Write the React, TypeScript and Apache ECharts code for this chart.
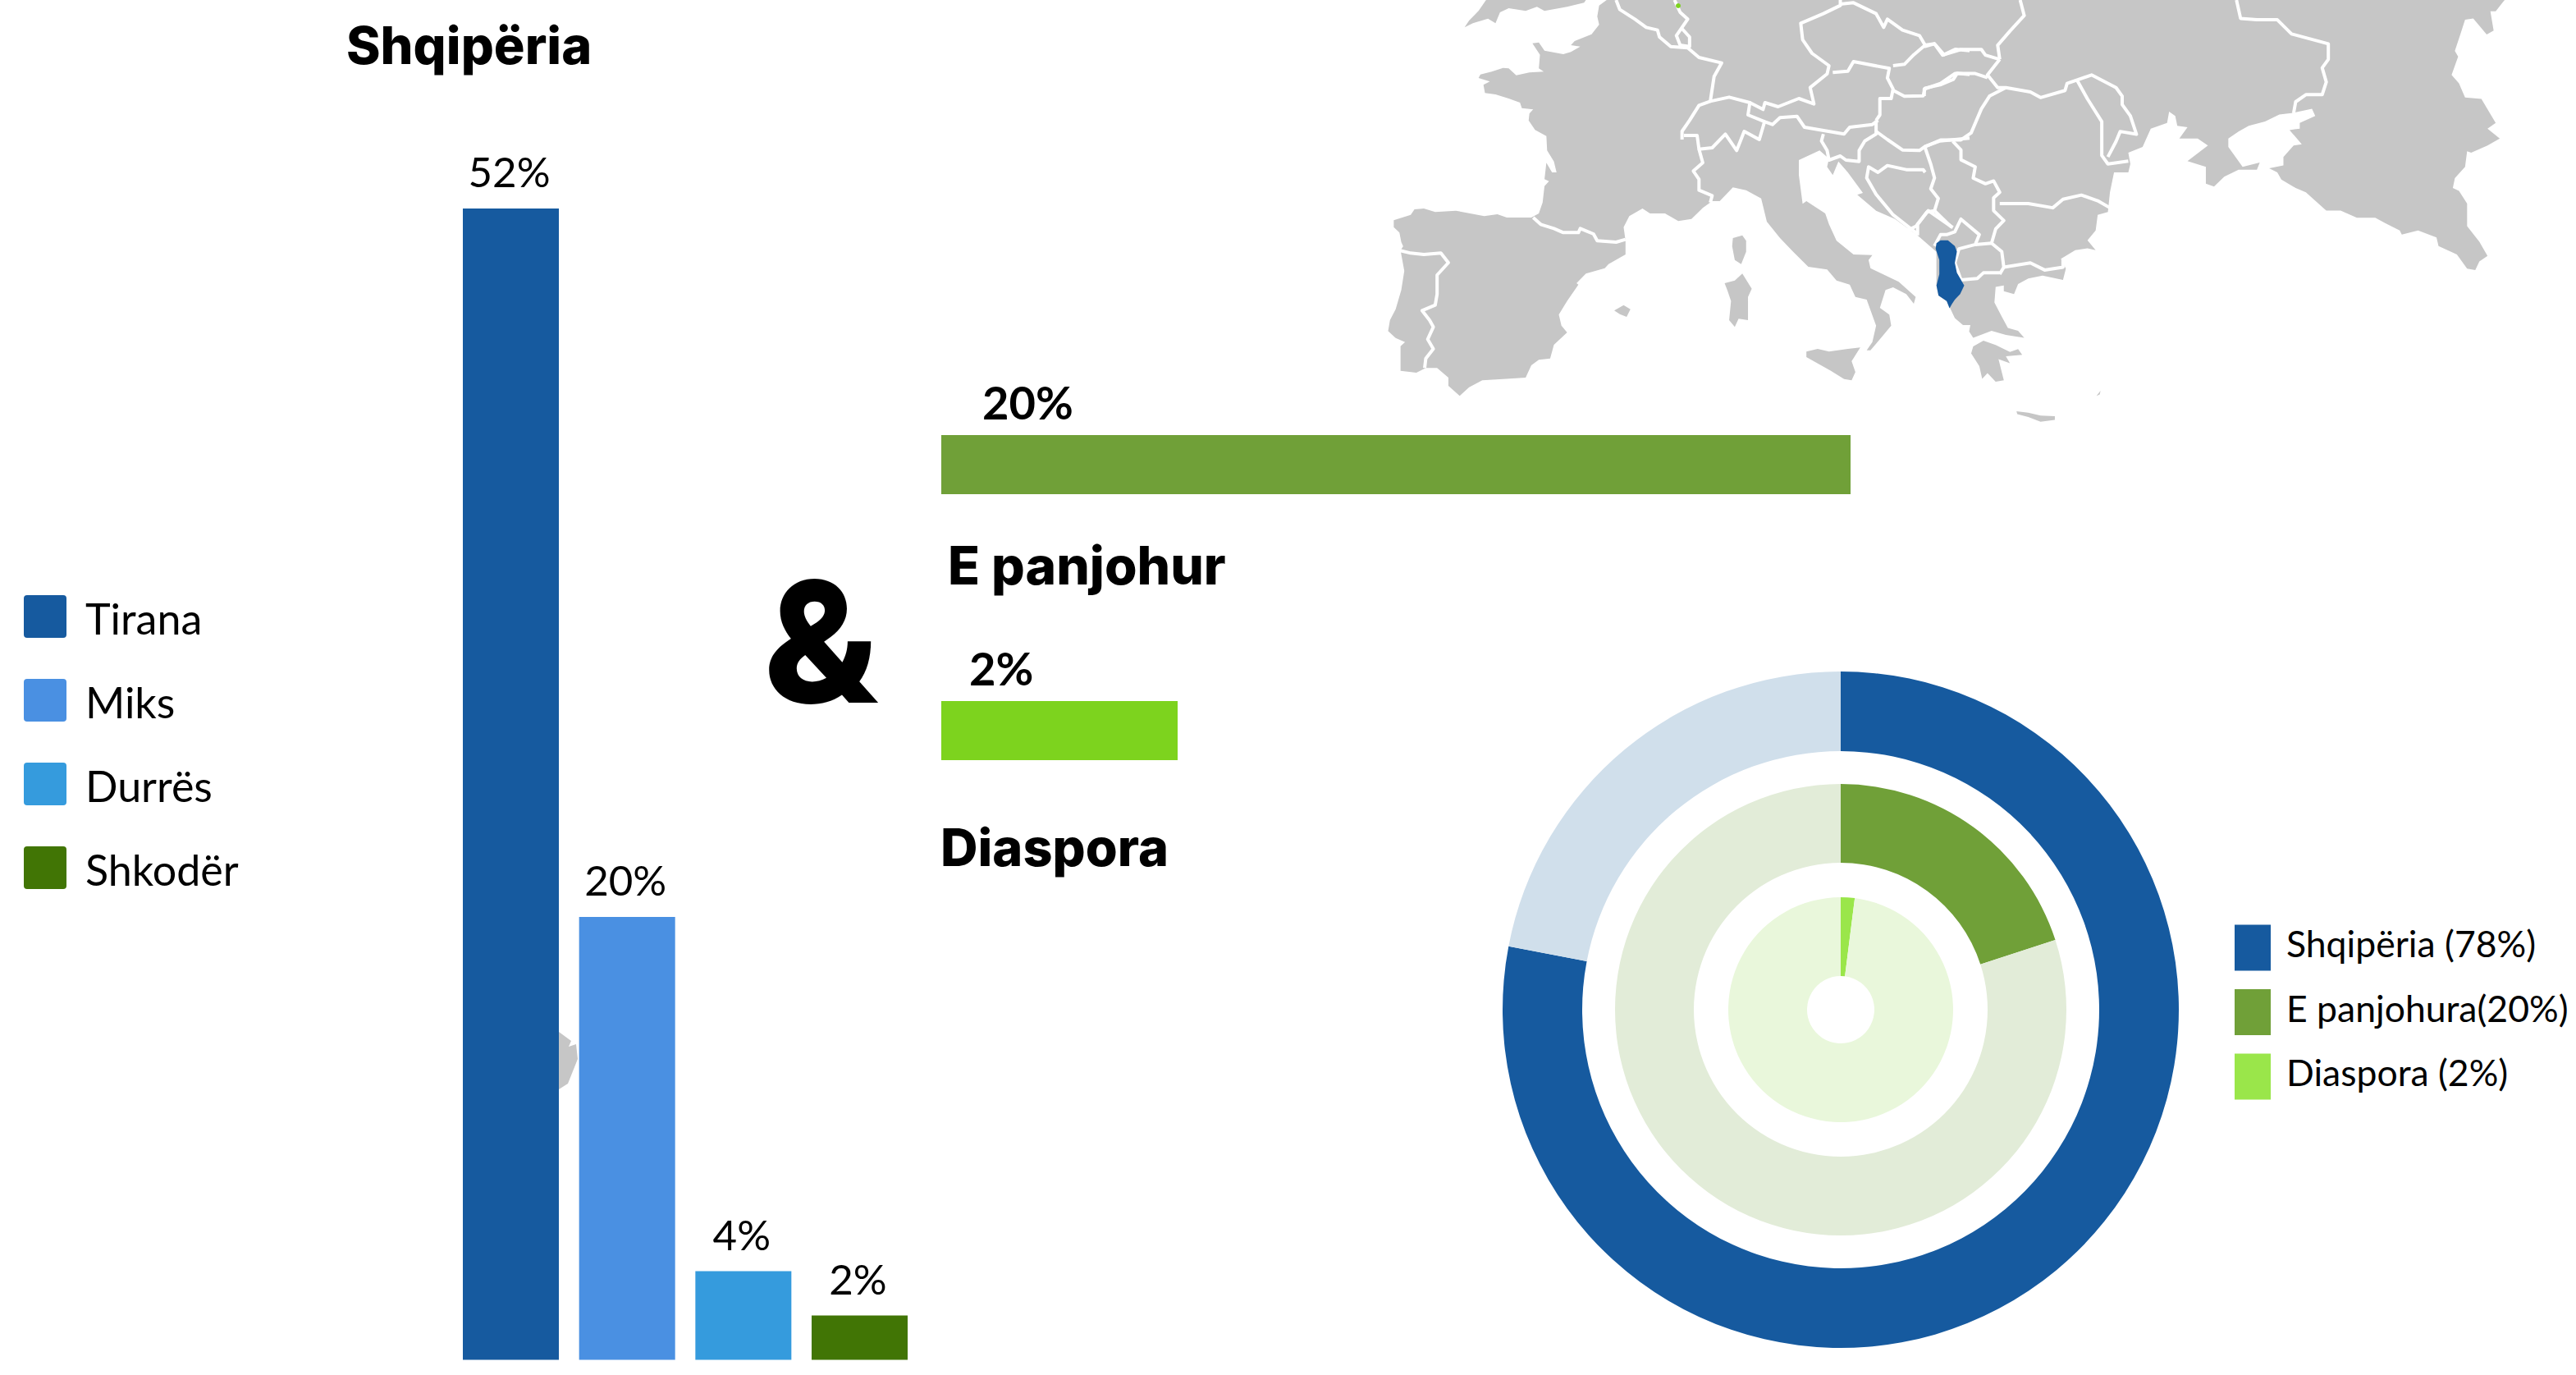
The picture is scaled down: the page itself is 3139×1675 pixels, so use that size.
import React, { useEffect, useRef } from "react";
import * as echarts from "echarts";

// ---- data ----
const regions = ["Tirana", "Miks", "Durrës", "Shkodër"];
const regionValues = [52, 20, 4, 2];
const regionColors = ["#165a9f", "#4a90e2", "#359bdd", "#417505"];

const unknownValue = [20];
const diasporaValue = [2];

const ringNames = ["Shqipëria (78%)", "E panjohura(20%)", "Diaspora (2%)"];
const ringValues = [78, 20, 2];
const ringColors = ["#165a9f", "#70a038", "#9ae64a"];
const ringPale = ["#d0dfeb", "#e2ecd8", "#e9f7db"];

// ---- decorative map outline, traced in the reference's crop coordinates ----
type P = [number, number];
const z4 = (a: number[][]): P[] => a.map(([x, y]) => [1680 + 0.4592 * x, y / 3] as P);
const z5 = (a: number[][]): P[] => a.map(([x, y]) => [2300 + 0.4974 * x, 0.3444 * y] as P);

const westCoast = [[605,0],[585,20],[580,60],[585,90],[565,125],[520,150],[510,165],[535,170],[510,190],[490,198],[440,185],[425,155],[408,158],[428,200],[425,250],[438,262],[400,265],[365,275],[345,250],[330,248],[300,262],[270,272],[265,285],[295,298],[278,310],[282,340],[310,345],[345,360],[375,375],[380,395],[410,400],[400,415],[398,440],[415,475],[445,497],[447,550],[465,590],[472,630],[460,630],[445,595],[440,655],[452,662],[440,680],[435,740],[425,780],[405,795],[380,795],[340,795],[315,783],[280,790],[205,770],[150,775],[120,762],[95,765],[85,785],[40,805],[40,830],[55,850],[60,885],[65,900],[58,915],[68,990],[60,1060],[45,1130],[30,1170],[25,1210],[45,1235],[70,1250],[58,1265],[58,1355],[100,1362],[125,1345],[155,1345],[185,1380],[185,1410],[215,1447],[240,1415],[275,1390],[330,1385],[390,1380],[405,1335],[425,1315],[455,1310],[465,1260],[500,1215],[485,1190],[478,1150],[500,1100],[530,1040],[525,1035],[550,1000],[600,980],[610,965],[655,930],[655,880],[650,830],[665,790],[700,762],[720,780],[760,780],[795,808],[830,800],[860,760],[885,735],[905,735],[940,685],[975,695],[1015,725],[1030,810],[1065,870],[1100,920],[1140,975],[1190,985],[1215,1025],[1250,1040],[1265,1085],[1295,1095],[1320,1190],[1310,1250],[1295,1280],[1305,1280],[1330,1240],[1360,1190],[1355,1150],[1330,1125],[1345,1060],[1365,1050],[1400,1075],[1420,1110],[1425,1085],[1380,1030],[1305,980],[1300,950],[1310,932],[1260,930],[1215,880],[1195,820],[1185,780],[1135,735],[1125,745],[1115,640],[1115,585],[1170,550],[1195,580],[1190,610],[1205,640],[1220,590],[1245,630],[1285,705],[1270,712],[1320,770],[1370,800],[1430,860],[1480,920]];
const eastCoast = [[120,1010],[125,1045],[145,1065],[155,1095],[165,1125],[185,1150],[203,1150],[200,1172],[210,1195],[255,1170],[290,1185],[335,1195],[320,1170],[295,1160],[280,1120],[262,1070],[265,1015],[285,1010],[285,1030],[310,1040],[320,1005],[345,985],[380,975],[430,990],[437,950],[425,915],[460,885],[490,878],[510,885],[490,850],[510,815],[515,760],[540,750],[545,680],[555,610],[590,610],[595,580],[590,540],[625,520],[645,455],[685,435],[690,395],[705,410],[710,445],[735,450],[715,490],[760,490],[785,515],[735,570],[780,590],[780,650],[800,660],[825,625],[860,600],[905,600],[912,575],[870,590],[835,520],[835,490],[860,465],[885,445],[925,430],[960,405],[990,400],[1040,385],[1048,410],[1010,435],[1010,455],[985,460],[1015,510],[995,515],[970,555],[970,585],[935,595],[955,610],[965,635],[1000,665],[1025,680],[1075,745],[1110,745],[1150,770],[1195,770],[1220,790],[1255,815],[1260,830],[1300,815],[1345,840],[1350,870],[1395,900],[1420,950],[1440,955],[1450,925],[1470,905],[1450,855],[1420,800],[1420,720],[1400,675],[1385,665],[1390,630],[1415,590],[1420,535],[1430,540],[1470,515],[1500,490],[1470,455],[1490,435],[1455,350],[1415,345],[1400,295],[1382,265],[1398,200],[1390,180],[1405,115],[1415,70],[1435,65],[1468,122],[1485,108],[1477,40],[1490,40],[1512,0]];
const britain = [[285,0],[265,40],[240,75],[228,100],[250,85],[290,68],[310,85],[322,45],[345,30],[390,40],[420,25],[440,40],[500,25],[545,10],[550,0]];
const islands4 = [
  [[940,870],[965,860],[975,880],[975,920],[962,965],[945,950],[938,900]],
  [[918,1035],[945,1025],[965,1000],[990,1055],[980,1085],[980,1170],[955,1165],[945,1195],[930,1170],[935,1100],[925,1060]],
  [[1135,1285],[1165,1275],[1195,1285],[1245,1275],[1278,1270],[1255,1320],[1265,1360],[1255,1390],[1235,1385],[1200,1355],[1135,1305]],
  [[625,1135],[650,1115],[668,1130],[658,1158],[640,1148]],
];
const islands5 = [
  [[210,1225],[235,1205],[265,1220],[300,1245],[320,1235],[330,1255],[290,1260],[300,1285],[272,1270],[285,1345],[265,1350],[245,1320],[232,1340],[225,1295],[205,1250]],
  [[316,1455],[345,1460],[375,1470],[410,1472],[410,1485],[375,1492],[345,1475],[318,1465]],
  [[512,1400],[522,1382],[520,1395]],
];
const albania = [[120,860],[130,850],[148,850],[165,870],[170,890],[165,930],[170,965],[188,1010],[178,1040],[165,1060],[158,1075],[152,1090],[145,1065],[125,1045],[120,1010],[127,970],[127,920],[118,880]];
const borders4 = [
  [[410,795],[430,820],[465,835],[490,850],[530,850],[535,835],[570,855],[580,880],[630,885],[655,875]],
  [[55,915],[85,925],[120,930],[165,925],[185,960],[155,1005],[155,1075],[150,1115],[115,1135],[135,1170],[145,1195],[130,1240],[145,1275],[125,1310],[122,1345]],
  [[630,0],[640,35],[680,70],[710,100],[740,110],[745,135],[775,170],[820,175],[850,210],[910,230],[890,280],[880,370],[850,385],[825,440],[805,480],[805,510]],
  [[810,495],[845,495],[850,545],[885,540],[920,490],[950,550],[970,480],[1010,510],[1025,440]],
  [[880,370],[930,355],[985,375],[980,420],[1025,445]],
  [[850,545],[860,595],[835,625],[850,655],[850,695],[885,715],[880,740]],
  [[985,375],[1020,400],[1025,375],[1060,390],[1115,360],[1155,380],[1145,320],[1190,270],[1195,240],[1150,195],[1125,145],[1120,85],[1180,50],[1225,20],[1225,0]],
  [[785,0],[800,45],[820,70],[805,100],[790,130],[800,165],[825,170],[825,135],[805,105]],
  [[1225,15],[1260,10],[1320,50],[1340,100],[1350,70],[1390,110],[1435,130],[1450,165],[1475,160],[1500,200],[1530,180],[1568,185]],
  [[1205,265],[1245,260],[1260,225],[1355,250],[1350,285],[1365,325],[1360,360],[1330,360],[1330,420],[1320,440]],
  [[1365,240],[1395,235],[1420,200],[1450,165]],
  [[1365,330],[1395,352],[1445,350],[1450,322],[1490,310],[1525,290],[1535,268],[1568,272]],
  [[1025,445],[1045,455],[1065,430],[1110,425],[1130,465],[1235,490],[1250,465],[1310,455],[1325,440]],
  [[1180,490],[1175,515],[1190,550],[1195,585],[1225,570],[1240,585],[1275,590],[1275,550],[1290,515],[1320,490],[1320,440]],
  [[1320,480],[1350,510],[1390,548],[1435,550],[1450,535],[1490,515],[1568,505]],
  [[1450,540],[1465,600],[1475,650],[1465,690],[1485,725],[1475,770]],
  [[1450,630],[1445,620],[1400,620],[1350,605],[1325,630],[1300,610],[1295,650],[1320,710],[1365,785],[1430,855]],
  [[1430,860],[1430,820],[1455,775],[1475,770],[1520,830]],
];
const borders5 = [
  [[115,870],[130,830],[145,830],[165,820],[180,775],[225,830],[215,865],[175,880],[165,930],[180,990],[220,985],[235,965],[275,965]],
  [[30,830],[70,800],[100,745],[160,805]],
  [[215,865],[255,860],[280,890],[285,945],[275,970]],
  [[285,945],[350,930],[385,955],[430,945],[430,915]],
  [[255,860],[265,810],[285,780],[260,745],[260,700],[275,680],[260,640],[240,650],[210,630],[215,590],[180,565],[180,530],[160,500]],
  [[90,520],[130,495],[180,495],[205,470],[230,385],[250,340],[290,310]],
  [[275,210],[245,265],[270,310],[290,310],[350,325],[375,345],[435,320],[440,295],[500,265],[560,310],[575,340],[575,370],[595,410],[610,475],[570,465],[560,500],[540,555]],
  [[465,285],[490,350],[525,430],[525,550],[540,580],[590,570]],
  [[275,720],[345,720],[405,735],[430,705],[475,690],[515,710],[545,735]],
  [[325,0],[335,55],[300,110],[270,160],[275,210]],
  [[90,165],[115,155],[135,195],[180,175],[230,175],[240,195],[275,210]],
  [[90,340],[90,315],[130,295],[165,260],[215,260],[245,275]],
  [[855,0],[865,65],[905,70],[955,70],[990,120],[1080,155],[1080,210],[1065,240],[1075,290],[1065,335],[1025,335],[1000,360],[995,400]],
];
const fragment = [[681,1257],[696,1268],[693,1275],[702,1272],[704,1290],[698,1305],[692,1320],[681,1327]];

const GREY = "#c6c6c6";
const SWATCH = "path://M4,0H48Q52,0 52,4V48Q52,52 48,52H4Q0,52 0,48V4Q0,0 4,0Z";

function mapGraphics() {
  const land: any = (pts: P[]) => ({ type: "polygon", silent: true, shape: { points: pts }, style: { fill: GREY } });
  const line: any = (pts: P[]) => ({ type: "polyline", silent: true, shape: { points: pts }, style: { stroke: "#fff", lineWidth: 4, fill: "none", lineJoin: "round" } });
  const main = [...z4(westCoast), ...z5(eastCoast)];
  return [
    land(z4(britain)),
    land(main),
    ...islands4.map((p) => land(z4(p))),
    ...islands5.map((p) => land(z5(p))),
    ...borders4.map((p) => line(z4(p))),
    ...borders5.map((p) => line(z5(p))),
    { type: "polygon", silent: true, shape: { points: z5(albania) }, style: { fill: "#165a9f" } },
    { type: "circle", silent: true, shape: { cx: 2045, cy: 7, r: 3 }, style: { fill: "#7dd31e" } },
    land(fragment as P[]),
  ];
}

const BOLD = "Inter";
const LIGHT = "Lato";

function title(text: string, left: number, top: number, fontSize = 63, weight: number = 800) {
  return { text, left, top, padding: 0, textStyle: { fontFamily: BOLD, fontWeight: weight, fontSize, color: "#000" } };
}

function ring(i: number, radius: [number, number]) {
  const rest = 100 - ringValues[i];
  return {
    type: "pie",
    silent: true,
    center: [2243, 1230],
    radius,
    startAngle: 90,
    clockwise: true,
    label: { show: false },
    labelLine: { show: false },
    data: [
      { name: ringNames[i], value: ringValues[i], itemStyle: { color: ringColors[i] } },
      { name: "tjetër " + i, value: rest, itemStyle: { color: ringPale[i] } },
    ],
  };
}

function App() {
  const ref = useRef<HTMLDivElement>(null);
  useEffect(() => {
    document.body.style.margin = "0";
    const chart = echarts.init(ref.current!, undefined, { renderer: "svg" });
    const option: any = {
      animation: false,
      backgroundColor: "#fff",
      title: [
        title("Shqipëria", 422, 23),
        title("E panjohur", 1155, 656, 64),
        title("Diaspora", 1146, 1000),
        title("&", 930, 678, 205, 800),
      ],
      graphic: { elements: mapGraphics() },
      legend: [
        {
          show: true, orient: "vertical", left: 29, top: 725, padding: 0, icon: SWATCH,
          itemWidth: 52, itemHeight: 52, itemGap: 48, selectedMode: false,
          data: regions,
          formatter: "{a|{name}}",
          textStyle: { rich: { a: { fontFamily: LIGHT, fontSize: 52, color: "#000", padding: [4, 0, 0, 18] } } },
        },
        {
          show: true, orient: "vertical", left: 2723, top: 1126, padding: 0, icon: "rect",
          itemWidth: 44, itemHeight: 56, itemGap: 22, selectedMode: false,
          data: ringNames,
          formatter: "{a|{name}}",
          textStyle: { rich: { a: { fontFamily: LIGHT, fontSize: 44.5, color: "#000", padding: [0, 0, 12, 14] } } },
        },
      ],
      grid: [
        { left: 551.67, width: 566.67, top: 254, height: 1402.5 },
        { left: 1147, width: 1108, top: 530, height: 72 },
        { left: 1147, width: 288, top: 854, height: 72 },
      ],
      xAxis: [
        { gridIndex: 0, type: "category", data: regions, show: false },
        { gridIndex: 1, type: "value", min: 0, max: 20, show: false },
        { gridIndex: 2, type: "value", min: 0, max: 2, show: false },
      ],
      yAxis: [
        { gridIndex: 0, type: "value", min: 0, max: 52, show: false },
        { gridIndex: 1, type: "category", data: ["E panjohur"], show: false },
        { gridIndex: 2, type: "category", data: ["Diaspora"], show: false },
      ],
      series: [
        ...regions.map((name, i) => ({
          type: "bar",
          name,
          xAxisIndex: 0,
          yAxisIndex: 0,
          stack: "rajonet",
          barWidth: 117,
          silent: true,
          itemStyle: { color: regionColors[i] },
          data: regions.map((_, j) => (j === i ? regionValues[i] : null)),
          label: {
            show: true, position: "top", distance: 20, offset: [-2, 0],
            formatter: (p: any) => (p.value == null ? "" : p.value + "%"),
            fontFamily: LIGHT, fontWeight: 400, fontSize: 51, color: "#000",
          },
        })),
        {
          type: "bar", name: "E panjohur", xAxisIndex: 1, yAxisIndex: 1, barWidth: 72, silent: true,
          itemStyle: { color: "#70a038" }, data: unknownValue,
          label: { show: true, position: [50, -69], formatter: "{c}%", fontFamily: LIGHT, fontWeight: 700, fontSize: 56, color: "#000" },
        },
        {
          type: "bar", name: "Diaspora", xAxisIndex: 2, yAxisIndex: 2, barWidth: 72, silent: true,
          itemStyle: { color: "#7dd31e" }, data: diasporaValue,
          label: { show: true, position: [34, -69], formatter: "{c}%", fontFamily: LIGHT, fontWeight: 700, fontSize: 56, color: "#000" },
        },
        ring(0, [315, 412]),
        ring(1, [179, 275]),
        ring(2, [41, 137]),
      ],
    };
    chart.setOption(option);
    return () => chart.dispose();
  }, []);
  return <div ref={ref} style={{ width: 3139, height: 1675, overflow: "hidden" }} />;
}

export default App;
